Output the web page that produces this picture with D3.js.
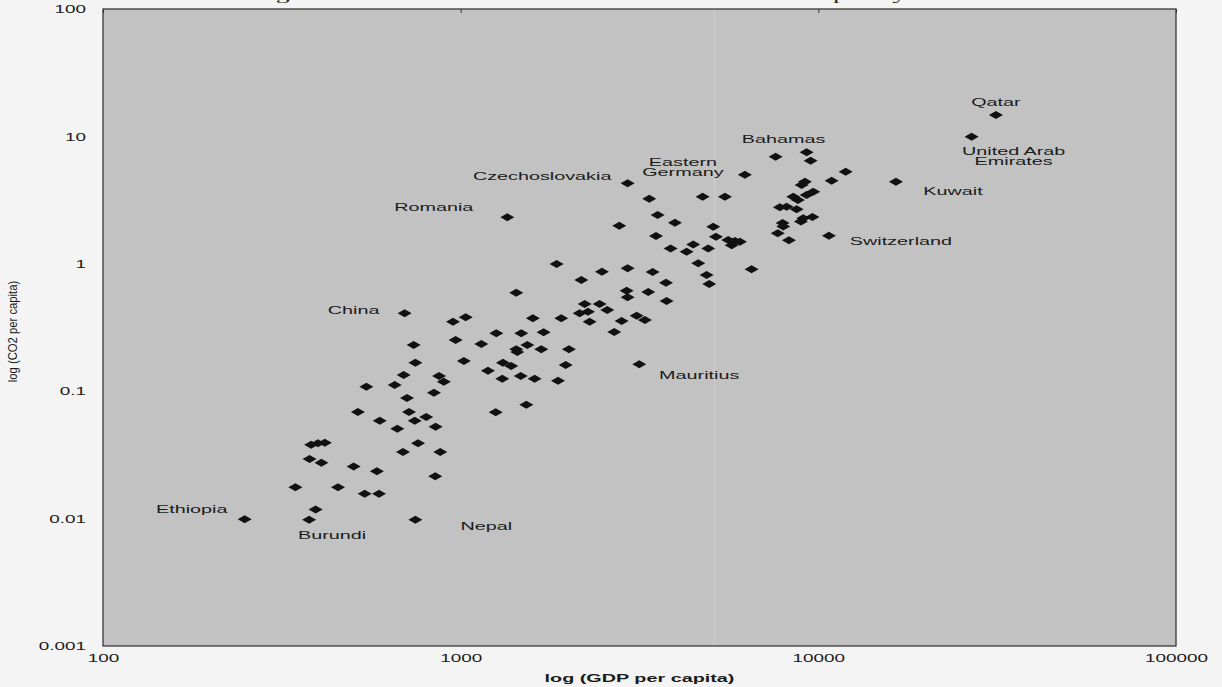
<!DOCTYPE html>
<html>
<head>
<meta charset="utf-8">
<script src="https://cdn.jsdelivr.net/npm/d3@7"></script>
<style>
  html, body { margin: 0; padding: 0; background: #f4f4f4; }
  svg { display: block; }
  text { font-family: "Liberation Sans", Arial, sans-serif; fill: #1a1a1a; }
</style>
</head>
<body>
<svg id="chart" width="1222" height="687"></svg>
<script>
// GDP per capita (x) and CO2 emissions per capita (y), one entry per country
const gdpPerCapita = [
  249, 377, 393, 747, 345, 454, 539, 591, 849, 378,
  408, 502, 583, 382, 399, 417, 760, 690, 877, 665,
  851, 594, 744, 801, 516, 717, 1253, 1526, 708, 842,
  545, 654, 870, 897, 693, 1307, 1472, 1610, 1871, 1192,
  747, 1021, 1313, 1385, 1966, 739, 1142, 968, 1536, 1430,
  1440, 1680, 2008, 1258, 1477, 1706, 952, 1033, 1592, 1911,
  697, 2151, 2269, 2294, 2222, 2446, 1430, 2174, 2569, 2818,
  3105, 3275, 2688, 3157, 2911, 2930, 3345, 3766, 3750, 2483,
  2930, 3441, 1855, 1350, 2930, 2776, 3516, 3554, 3972, 3367,
  4747, 5481, 6232, 5083, 5172, 5600, 5848, 5724, 6038, 3864,
  4470, 4283, 4922, 4615, 4871, 4955, 6506, 7597, 9275, 9517,
  11925, 10895, 16483, 26830, 31370, 9173, 8980, 9678, 9275, 8508,
  8770, 8152, 7806, 8697, 9075, 9627, 8940, 7944, 7977, 7700,
  8275, 10707
];
const co2PerCapita = [
  0.0099, 0.0098, 0.0118, 0.0098, 0.0176, 0.0176, 0.0157, 0.0157, 0.0215, 0.0294,
  0.0275, 0.0256, 0.0235, 0.038, 0.039, 0.0394, 0.039, 0.0333, 0.0333, 0.0508,
  0.0527, 0.0587, 0.0587, 0.0627, 0.0687, 0.0687, 0.0683, 0.0783, 0.0885, 0.0973,
  0.1085, 0.1118, 0.1316, 0.1187, 0.1341, 0.1253, 0.1316, 0.1253, 0.1209, 0.1449,
  0.1674, 0.1726, 0.1674, 0.1577, 0.1606, 0.2305, 0.2348, 0.2524, 0.2305, 0.2133,
  0.2031, 0.2133, 0.2133, 0.2848, 0.2848, 0.29, 0.351, 0.38, 0.3735, 0.3735,
  0.409, 0.409, 0.4207, 0.351, 0.4836, 0.4836, 0.593, 0.746, 0.434, 0.356,
  0.3915, 0.362, 0.291, 0.163, 0.615, 0.546, 0.601, 0.51, 0.711, 0.867,
  0.922, 0.862, 0.996, 2.32, 4.29, 1.99, 1.65, 2.42, 2.10, 3.24,
  3.36, 3.36, 5.0, 1.955, 1.63, 1.54, 1.51, 1.40, 1.49, 1.32,
  1.42, 1.245, 1.32, 1.01, 0.817, 0.694, 0.905, 6.93, 7.5, 6.45,
  5.28, 4.49, 4.41, 9.94, 14.7, 4.41, 4.15, 3.68, 3.47, 3.36,
  3.17, 2.81, 2.78, 2.68, 2.28, 2.33, 2.15, 2.09, 1.96, 1.74,
  1.53, 1.66
];

// Named countries (each label sits next to its own point)
const labelNames = ["Ethiopia", "Burundi", "Nepal", "China", "Mauritius", "Romania",
  "Czechoslovakia", "Eastern\nGermany", "Bahamas", "Qatar", "United Arab\nEmirates",
  "Kuwait", "Switzerland"];
const labelGdp = [249, 377, 747, 697, 3157, 1350, 2930, 6232, 7597, 31370, 26830, 16483, 10707];
const labelCo2 = [0.0099, 0.0098, 0.0098, 0.409, 0.163, 2.32, 4.29, 5.0, 6.93, 14.7, 9.94, 4.41, 1.66];

const xTicks = [100, 1000, 10000, 100000];
const yTicks = [0.001, 0.01, 0.1, 1, 10, 100];
const xTitle = "log (GDP per capita)";
const yTitle = "log (CO2 per capita)";
const figureTitle = "Figure 3: Income and CO2 emissions of nations: policy choices";

// ---- layout ----
const plot = { left: 103, right: 1176, top: 9, bottom: 646 };
const SX = 1.8; // wide lettering used throughout the figure

const svg = d3.select("#chart");

const x = d3.scaleLog().domain([100, 100000]).range([plot.left, plot.right]);
const y = d3.scaleLog().domain([0.001, 100]).range([plot.bottom, plot.top]);

// caption running above the frame (only its lowest strokes fall inside the page)
svg.append("text")
  .attr("transform", `translate(251,-0.3) scale(${SX},1)`)
  .style("font-family", "'Liberation Serif', 'Times New Roman', serif")
  .style("font-size", "15.5px")
  .style("letter-spacing", "0.4px")
  .style("fill", "#222")
  .text(figureTitle);

// plot area
svg.append("rect")
  .attr("x", plot.left).attr("y", plot.top)
  .attr("width", plot.right - plot.left).attr("height", plot.bottom - plot.top)
  .attr("fill", "#c2c2c2");

// faint pale streak across the plot
svg.append("rect")
  .attr("x", 713).attr("y", plot.top)
  .attr("width", 3).attr("height", plot.bottom - plot.top)
  .attr("fill", "#ffffff").attr("opacity", 0.09);

svg.append("rect")
  .attr("x", plot.left).attr("y", plot.top)
  .attr("width", plot.right - plot.left).attr("height", plot.bottom - plot.top)
  .attr("fill", "none").attr("stroke", "#2a2a2a").attr("stroke-width", 1.2);

// small decade ticks hanging from the top edge
const topAxis = d3.axisTop(x).tickValues(xTicks).tickSizeInner(-4).tickSizeOuter(0).tickFormat("");
const gTop = svg.append("g").attr("transform", `translate(0,${plot.top})`).call(topAxis);
gTop.select(".domain").remove();
gTop.selectAll("line").attr("stroke", "#333");

// x tick labels
const xAxis = d3.axisBottom(x).tickValues(xTicks).tickSize(0).tickFormat(d3.format("d"));
const gx = svg.append("g").attr("transform", `translate(0,${plot.bottom})`).call(xAxis);
gx.select(".domain").remove();
gx.selectAll(".tick text")
  .attr("y", 0).attr("dy", 0)
  .attr("transform", `translate(0,16) scale(${SX},1)`)
  .style("font-size", "10.5px")
  .style("font-family", "'Liberation Sans', Arial, sans-serif")
  .attr("fill", "#1a1a1a");

// y tick labels
const yFmt = d => (d >= 1 ? d3.format("d")(d) : String(d));
const yAxis = d3.axisLeft(y).tickValues(yTicks).tickSize(0).tickFormat(yFmt);
const gy = svg.append("g").attr("transform", `translate(${plot.left},0)`).call(yAxis);
gy.select(".domain").remove();
gy.selectAll(".tick text")
  .attr("x", 0).attr("dy", "0.35em")
  .attr("transform", `translate(-17,0) scale(${SX},1)`)
  .style("font-size", "10.5px")
  .style("font-family", "'Liberation Sans', Arial, sans-serif")
  .attr("fill", "#1a1a1a");

// axis titles
svg.append("text")
  .attr("transform", `translate(${(plot.left + plot.right) / 2},682) scale(${SX},1)`)
  .attr("text-anchor", "middle")
  .style("font-size", "11px")
  .style("font-weight", "bold")
  .text(xTitle);

svg.append("text")
  .attr("transform", `translate(17,${(plot.top + plot.bottom) / 2 + 4}) scale(1.15,1) rotate(-90)`)
  .attr("text-anchor", "middle")
  .style("font-size", "11.3px")
  .text(yTitle);

// country markers: flat diamonds
const points = gdpPerCapita.map((g, i) => ({ g, c: co2PerCapita[i] }));
svg.append("g").selectAll("path")
  .data(points)
  .join("path")
  .attr("d", "M-7,0L0,-4L7,0L0,4Z")
  .attr("transform", d => `translate(${x(d.g)},${y(d.c)})`)
  .attr("fill", "#111");

// label placement relative to each marker (centre of first text line)
const labelPlacement = {
  "Ethiopia": [-53, -10],
  "Burundi": [23, 15],
  "Nepal": [71, 6],
  "China": [-51, -3],
  "Mauritius": [60, 11],
  "Romania": [-73.5, -10],
  "Czechoslovakia": [-85.5, -7.3],
  "Eastern\nGermany": [-62, -13],
  "Bahamas": [8, -17.7],
  "Qatar": [0, -13.3],
  "United Arab\nEmirates": [42, 14],
  "Kuwait": [57, 9.3],
  "Switzerland": [72, 5.3]
};
const lineGap = 10.5;

const labels = labelNames.map((name, i) => ({ name, g: labelGdp[i], c: labelCo2[i] }));
const gl = svg.append("g");
labels.forEach(d => {
  const [dx, dy] = labelPlacement[d.name];
  d.name.split("\n").forEach((line, k) => {
    gl.append("text")
      .attr("transform", `translate(${x(d.g) + dx},${y(d.c) + dy + k * lineGap}) scale(${SX},1)`)
      .attr("text-anchor", "middle")
      .attr("dy", "0.35em")
      .style("font-size", "11px")
      .text(line);
  });
});
</script>
</body>
</html>
